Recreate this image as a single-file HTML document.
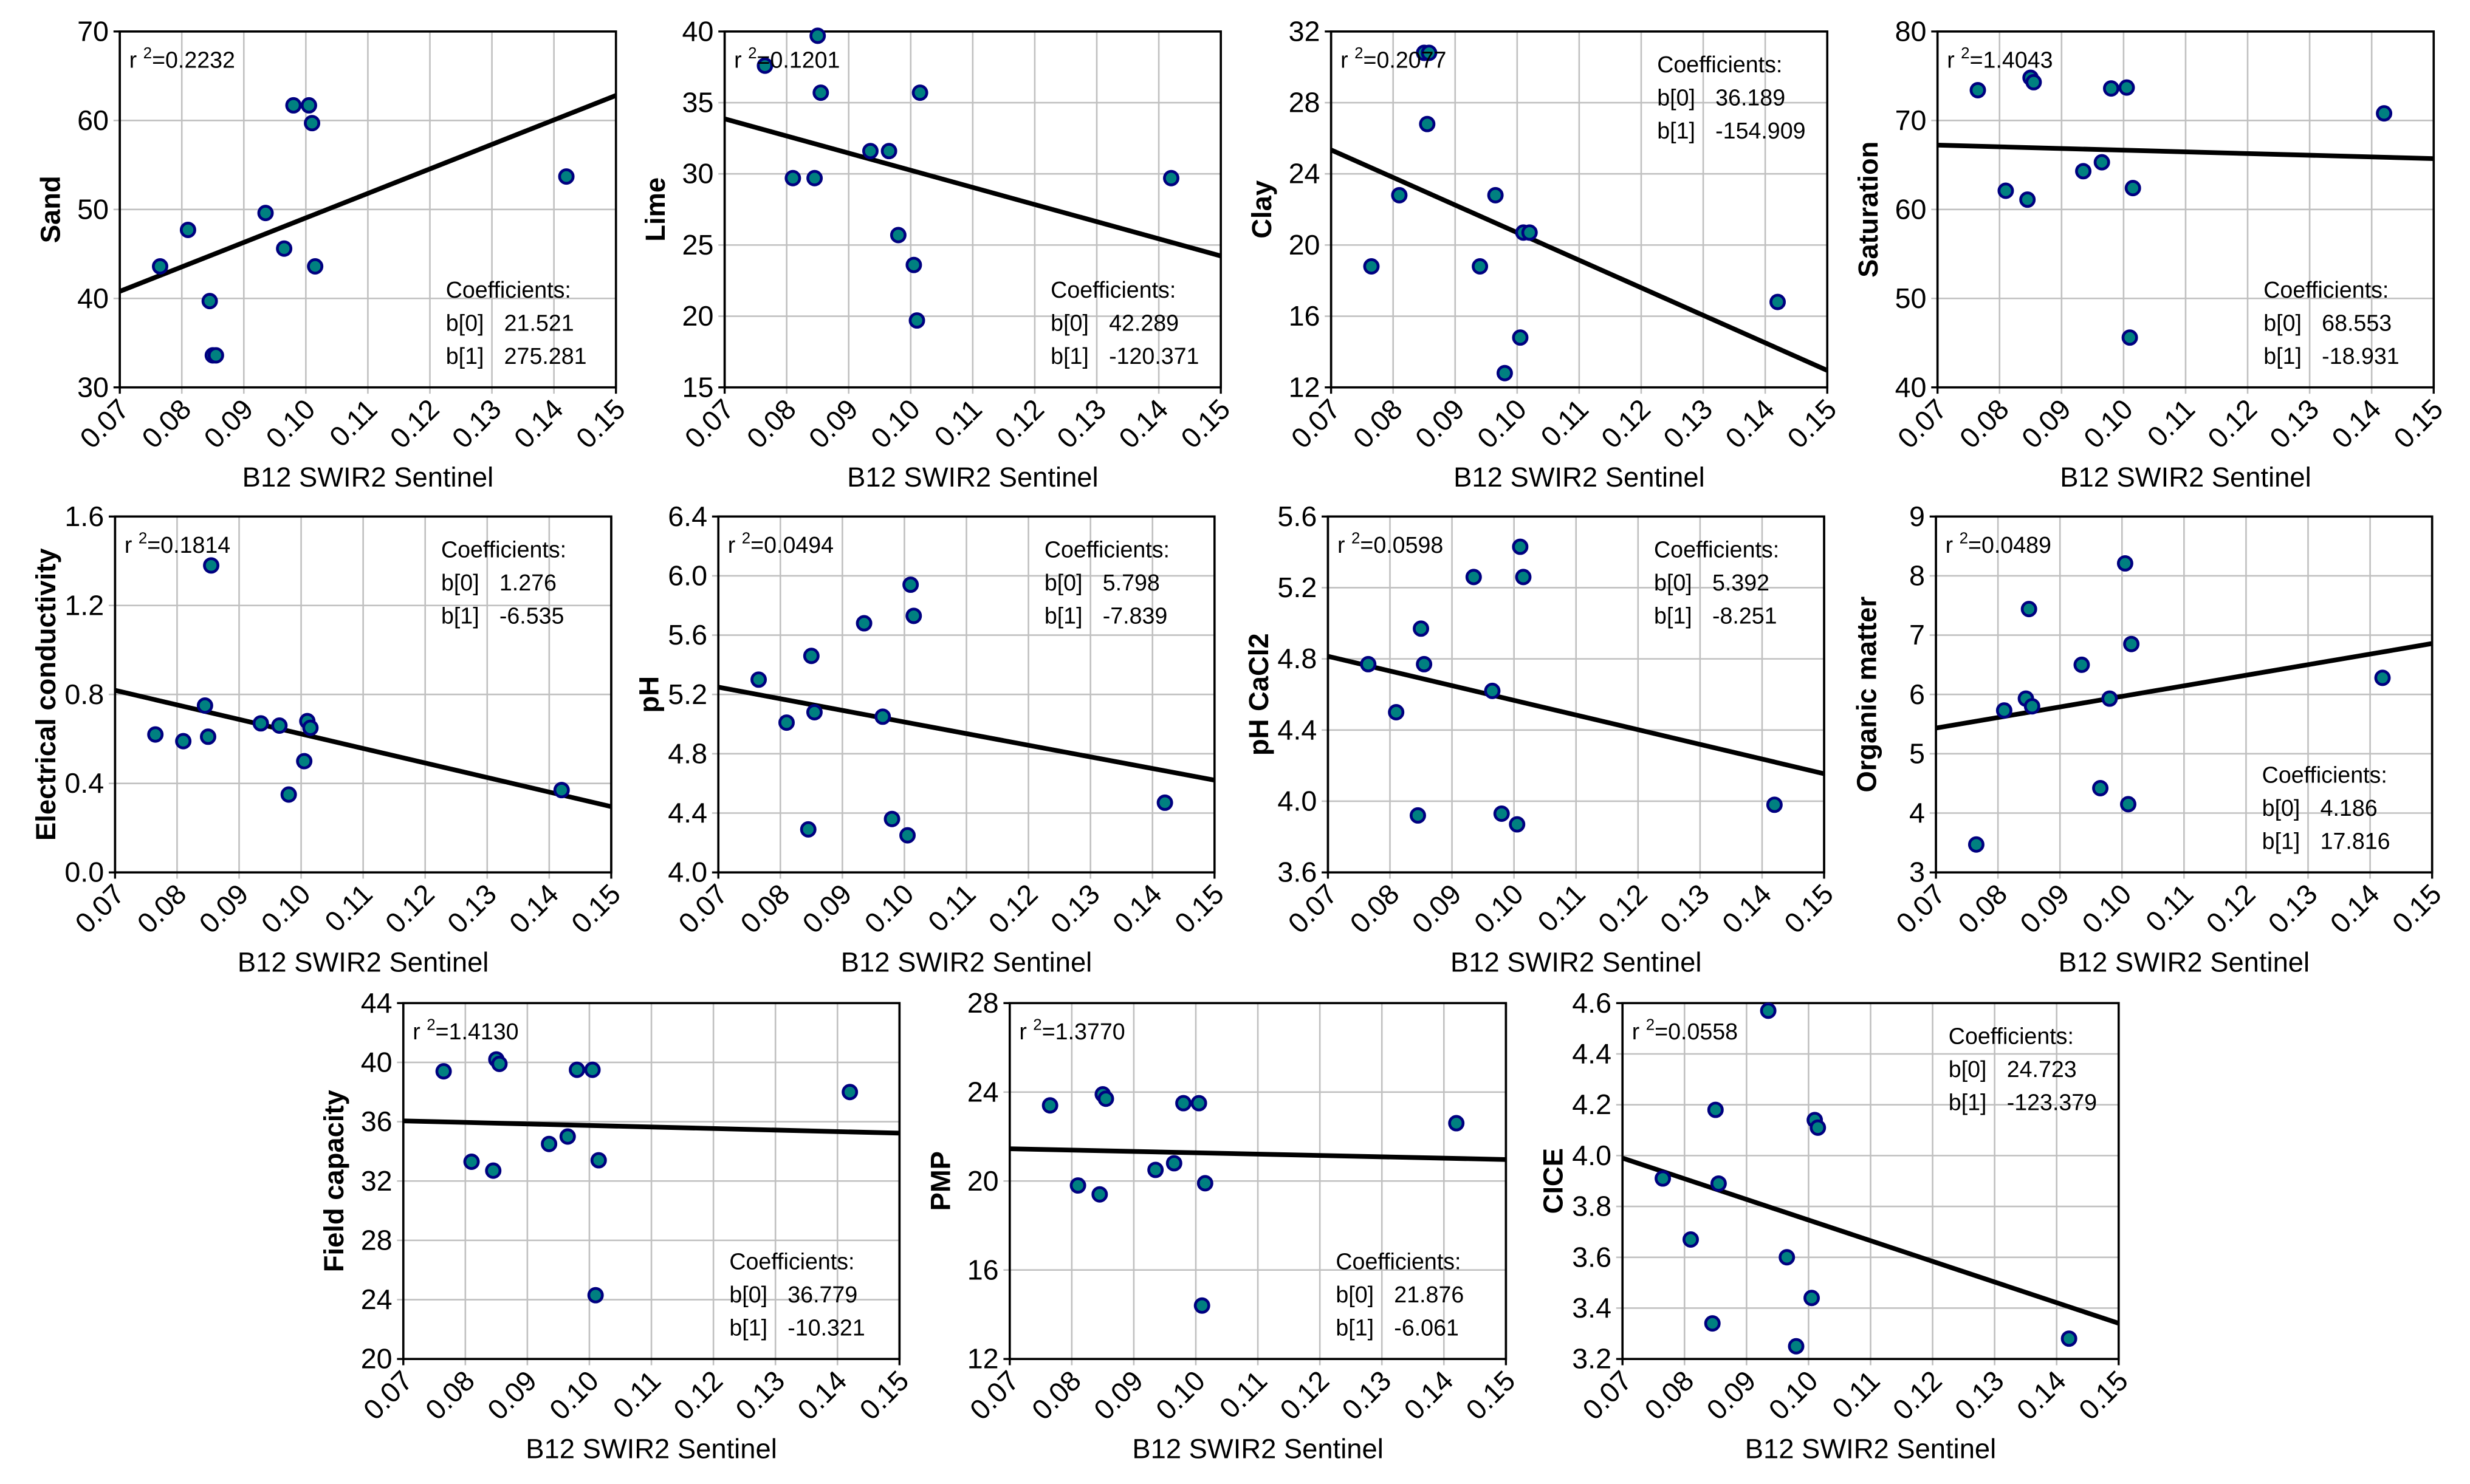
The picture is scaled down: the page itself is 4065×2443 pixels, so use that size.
<!DOCTYPE html>
<html><head><meta charset="utf-8"><style>
html,body{margin:0;padding:0;background:#fff;}
svg{display:block;}
text{font-family:"Liberation Sans",Arial,sans-serif;fill:#000;}
</style></head><body>
<svg id="fig" width="4065" height="2443" viewBox="0 0 1568 942.4" xmlns="http://www.w3.org/2000/svg"></svg>
<script>
const xVals = [0.0765,0.081,0.0845,0.085,0.0855,0.0935,0.0965,0.098,0.1005,0.101,0.1015,0.142];
const sandY = [43.6,47.7,39.7,33.6,33.6,49.6,45.6,61.7,61.7,59.7,43.6,53.7];
const limeY = [37.6,29.7,29.7,39.7,35.7,31.6,31.6,25.7,23.6,19.7,35.7,29.7];
const clayX = [0.0765,0.081,0.085,0.0855,0.0858,0.094,0.0965,0.098,0.1005,0.101,0.102,0.142];
const clayY = [18.8,22.8,30.8,26.8,30.8,18.8,22.8,12.8,14.8,20.7,20.7,16.8];
const satY = [73.4,62.1,61.1,74.8,74.3,64.3,65.3,73.6,73.7,45.6,62.4,70.8];
const ecY = [0.62,0.59,0.75,0.61,1.38,0.67,0.66,0.35,0.50,0.68,0.65,0.37];
const phY = [5.30,5.01,4.29,5.46,5.08,5.68,5.05,4.36,4.25,5.94,5.73,4.47];
const phcY = [4.77,4.50,3.92,4.97,4.77,5.26,4.62,3.93,3.87,5.43,5.26,3.98];
const omY = [3.47,5.73,5.93,7.44,5.80,6.50,4.42,5.93,8.21,4.15,6.85,6.28];
const fcY = [39.4,33.3,32.7,40.2,39.9,34.5,35.0,39.5,39.5,24.3,33.4,38.0];
const pmpY = [23.4,19.8,19.4,23.9,23.7,20.5,20.8,23.5,23.5,14.4,19.9,22.6];
const ciceY = [3.91,3.67,3.34,4.18,3.89,4.57,3.60,3.25,3.44,4.14,4.11,3.28];
const xTicks = [0.07,0.08,0.09,0.10,0.11,0.12,0.13,0.14,0.15];
const xTickLabels = ["0.07","0.08","0.09","0.10","0.11","0.12","0.13","0.14","0.15"];
const fitB0 = [21.521,42.289,36.189,68.553,1.276,5.798,5.392,4.186,36.779,21.876,4.559];
const fitB1 = [275.281,-120.371,-154.909,-18.931,-6.535,-7.839,-8.251,17.816,-10.321,-6.061,-8.125];

const panels = [
 {name:"sand",title:"Sand",xs:xVals,ys:sandY,ymin:30,ymax:70,ystep:10,dec:0,r2:"0.2232",b0:"21.521",b1:"275.281",coef:"bottom",L:76,T:20},
 {name:"lime",title:"Lime",xs:xVals,ys:limeY,ymin:15,ymax:40,ystep:5,dec:0,r2:"0.1201",b0:"42.289",b1:"-120.371",coef:"bottom",L:460,T:20},
 {name:"clay",title:"Clay",xs:clayX,ys:clayY,ymin:12,ymax:32,ystep:4,dec:0,r2:"0.2077",b0:"36.189",b1:"-154.909",coef:"top",L:845,T:20},
 {name:"saturation",title:"Saturation",xs:xVals,ys:satY,ymin:40,ymax:80,ystep:10,dec:0,r2:"1.4043",b0:"68.553",b1:"-18.931",coef:"bottom",L:1230,T:20},
 {name:"electrical-conductivity",title:"Electrical conductivity",xs:xVals,ys:ecY,ymin:0,ymax:1.6,ystep:0.4,dec:1,r2:"0.1814",b0:"1.276",b1:"-6.535",coef:"top",L:73,T:328},
 {name:"ph",title:"pH",xs:xVals,ys:phY,ymin:4.0,ymax:6.4,ystep:0.4,dec:1,r2:"0.0494",b0:"5.798",b1:"-7.839",coef:"top",L:456,T:328},
 {name:"ph-cacl2",title:"pH CaCl2",xs:xVals,ys:phcY,ymin:3.6,ymax:5.6,ystep:0.4,dec:1,r2:"0.0598",b0:"5.392",b1:"-8.251",coef:"top",L:843,T:328},
 {name:"organic-matter",title:"Organic matter",xs:xVals,ys:omY,ymin:3,ymax:9,ystep:1,dec:0,r2:"0.0489",b0:"4.186",b1:"17.816",coef:"bottom",L:1229,T:328},
 {name:"field-capacity",title:"Field capacity",xs:xVals,ys:fcY,ymin:20,ymax:44,ystep:4,dec:0,r2:"1.4130",b0:"36.779",b1:"-10.321",coef:"bottom",L:256,T:637},
 {name:"pmp",title:"PMP",xs:xVals,ys:pmpY,ymin:12,ymax:28,ystep:4,dec:0,r2:"1.3770",b0:"21.876",b1:"-6.061",coef:"bottom",L:641,T:637},
 {name:"cice",title:"CICE",xs:xVals,ys:ciceY,ymin:3.2,ymax:4.6,ystep:0.2,dec:1,r2:"0.0558",b0:"24.723",b1:"-123.379",coef:"top",L:1030,T:637}
];
const W=315,H=226,NS="http://www.w3.org/2000/svg";
const svg=document.getElementById('fig');
function mk(tag,attrs,parent,txt){const e=document.createElementNS(NS,tag);for(const k in attrs)e.setAttribute(k,attrs[k]);if(txt!==undefined)e.textContent=txt;parent.appendChild(e);return e;}

panels.forEach((p,pi)=>{
  const g=mk('g',{},svg);
  
  
  const sx=v=>p.L+(v-0.07)/(0.15-0.07)*W;
  const sy=v=>p.T+H-(v-p.ymin)/(p.ymax-p.ymin)*H;
  const n=Math.round((p.ymax-p.ymin)/p.ystep);
  for(let i=0;i<=n;i++){
    const v=p.ymin+i*p.ystep, y=sy(v);
    const gl=mk('line',{x1:p.L-4,x2:p.L+W,y1:y,y2:y,stroke:i==0||i==n?'#000':'#c0c0c0','stroke-width':i==0||i==n?1.3:1},g);
    
    
    const t=mk('text',{x:p.L-7,y:y+6,'text-anchor':'end','font-size':18},g,v.toFixed(p.dec));
    
    
  }
  xTicks.forEach((v,i)=>{
    const x=sx(v);
    const gl=mk('line',{x1:x,x2:x,y1:p.T,y2:p.T+H+4,stroke:i==0||i==xTicks.length-1?'#000':'#c0c0c0','stroke-width':i==0||i==xTicks.length-1?1.3:1},g);
    
    
    const t=mk('text',{x:x+7,y:p.T+H+15,'text-anchor':'end','font-size':18,transform:`rotate(-45 ${x+7} ${p.T+H+15})`},g,xTickLabels[i]);
    
    
  });
  const fr=mk('rect',{x:p.L,y:p.T,width:W,height:H,fill:'none',stroke:'#000','stroke-width':1.4},g);
  
  
  const b0=fitB0[pi],b1=fitB1[pi];
  const ln=mk('line',{x1:sx(0.07),y1:sy(b0+b1*0.07),x2:sx(0.15),y2:sy(b0+b1*0.15),stroke:'#000','stroke-width':3},g);
  
  
  p.xs.forEach((xv,i)=>{
    const c=mk('circle',{cx:sx(xv),cy:sy(p.ys[i]),r:4.3,fill:'#008080',stroke:'#000080','stroke-width':1.8},g);
    
    
  });
  const r=mk('text',{x:p.L+6,y:p.T+23,'font-size':14.5},g);
  
  
  r.innerHTML='r <tspan dy="-6" font-size="10">2</tspan><tspan dy="6">='+p.r2+'</tspan>';
  const cx=p.L+W-108, cy=p.coef=='top'?p.T+26:p.T+H-57;
  const ct=mk('text',{x:cx,y:cy,'font-size':14.5},g,'Coefficients:');
  
  
  [['b[0]',p.b0],['b[1]',p.b1]].forEach((a,k)=>{
    const t1=mk('text',{x:cx,y:cy+21*(k+1),'font-size':14.5},g,a[0]);
    
    
    const t2=mk('text',{x:cx+37,y:cy+21*(k+1),'font-size':14.5},g,a[1]);
    
    
  });
  const xt=mk('text',{x:p.L+W/2,y:p.T+H+63,'text-anchor':'middle','font-size':17.5},g,'B12 SWIR2 Sentinel');
  
  
  const yx=p.L-38, yy=p.T+H/2;
  const yt=mk('text',{x:yx,y:yy,'text-anchor':'middle','font-size':17.5,'font-weight':'bold',transform:`rotate(-90 ${yx} ${yy})`},g,p.title);
  
  
});
</script>
</body></html>
